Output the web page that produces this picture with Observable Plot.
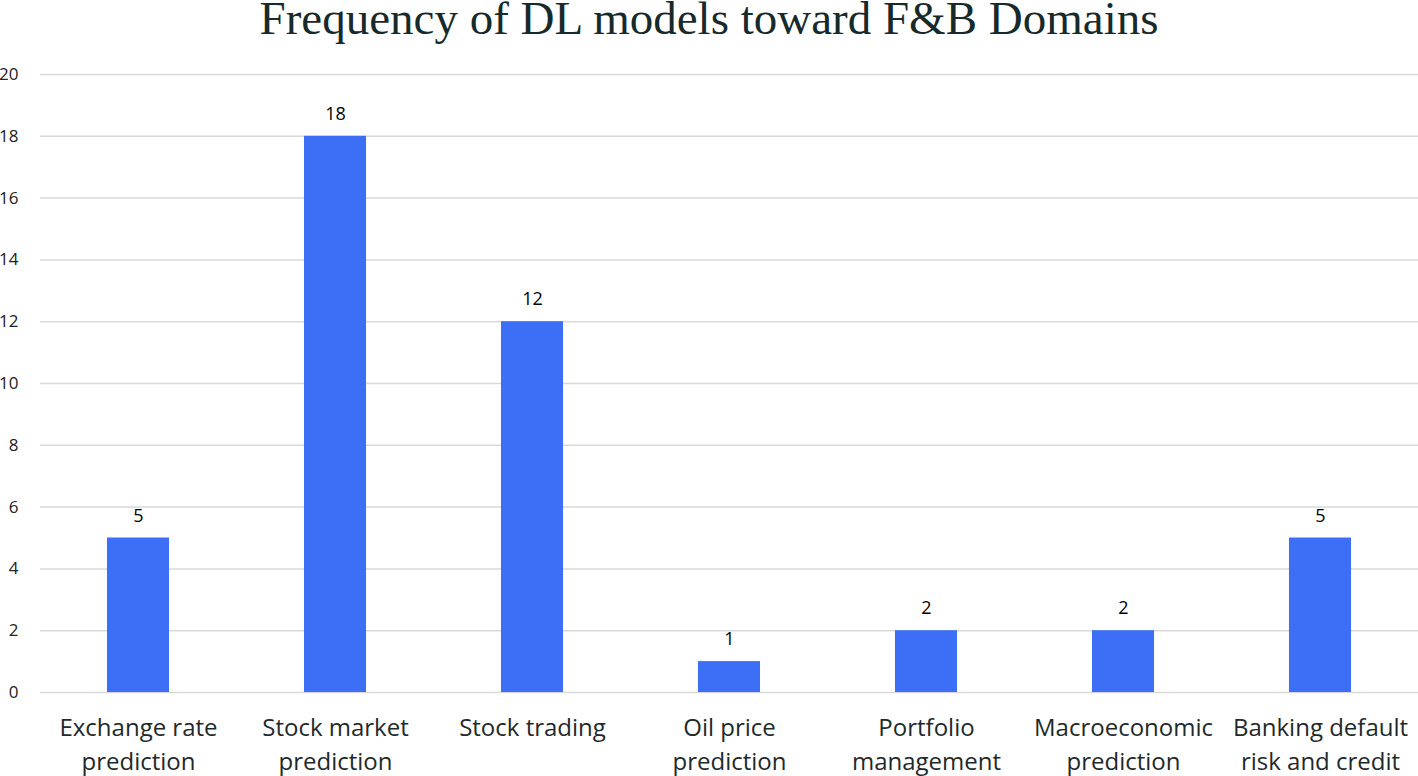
<!DOCTYPE html>
<html>
<head>
<meta charset="utf-8">
<script src="https://cdn.jsdelivr.net/npm/d3@7"></script>
<script src="https://cdn.jsdelivr.net/npm/@observablehq/plot@0.6"></script>
<style>
  html, body { margin: 0; padding: 0; background: #fff; }
  #title { height: 50px; width: 1418px; text-align: center; font-family: "Liberation Serif", "Times New Roman", serif; font-size: 47px; line-height: 36px; color: #172a2b; white-space: nowrap; }
</style>
</head>
<body>
<div id="title">Frequency of DL models toward F&amp;B Domains</div>
<div id="chart"></div>
<script>
const categories = [
  "Exchange rate prediction",
  "Stock market prediction",
  "Stock trading",
  "Oil price prediction",
  "Portfolio management",
  "Macroeconomic prediction",
  "Banking default risk and credit"
];
const labelLines = [
  "Exchange rate\nprediction",
  "Stock market\nprediction",
  "Stock trading",
  "Oil price\nprediction",
  "Portfolio\nmanagement",
  "Macroeconomic\nprediction",
  "Banking default\nrisk and credit"
];
const counts = [5, 18, 12, 1, 2, 2, 5];
const yTicks = [0, 2, 4, 6, 8, 10, 12, 14, 16, 18, 20];

const data = categories.map((c, i) => ({category: c, count: counts[i]}));
const labelOf = new Map(categories.map((c, i) => [c, labelLines[i]]));

const chart = Plot.plot({
  width: 1418,
  height: 726,
  marginLeft: 40,
  marginRight: 0,
  marginTop: 24,
  marginBottom: 84,
  style: {fontFamily: "'Open Sans', sans-serif", color: "#1f2a2a", background: "#fff"},
  x: {domain: categories, paddingInner: 0.685, paddingOuter: 0.34, round: false, label: null},
  y: {domain: [0, 20], ticks: yTicks, label: null},
  marks: [
    Plot.ruleY(yTicks, {stroke: "#d9d9d9", strokeWidth: 1.5}),
    Plot.barY(data, {x: "category", y: "count", fill: "#3c6ff6"}),
    Plot.text(data, {x: "category", y: "count", text: d => String(d.count), dy: -22, fontSize: 18, fill: "#000", fontWeight: 500}),
    Plot.axisY({ticks: yTicks, tickSize: 0, tickPadding: 22, fontSize: 17, fill: "#222", label: null}),
    Plot.axisX({tickSize: 0, tickPadding: 19, fontSize: 24, lineHeight: 1.42, fill: "#1f2a2a", tickFormat: d => labelOf.get(d), label: null})
  ]
});
document.getElementById("chart").appendChild(chart);
</script>
</body>
</html>
